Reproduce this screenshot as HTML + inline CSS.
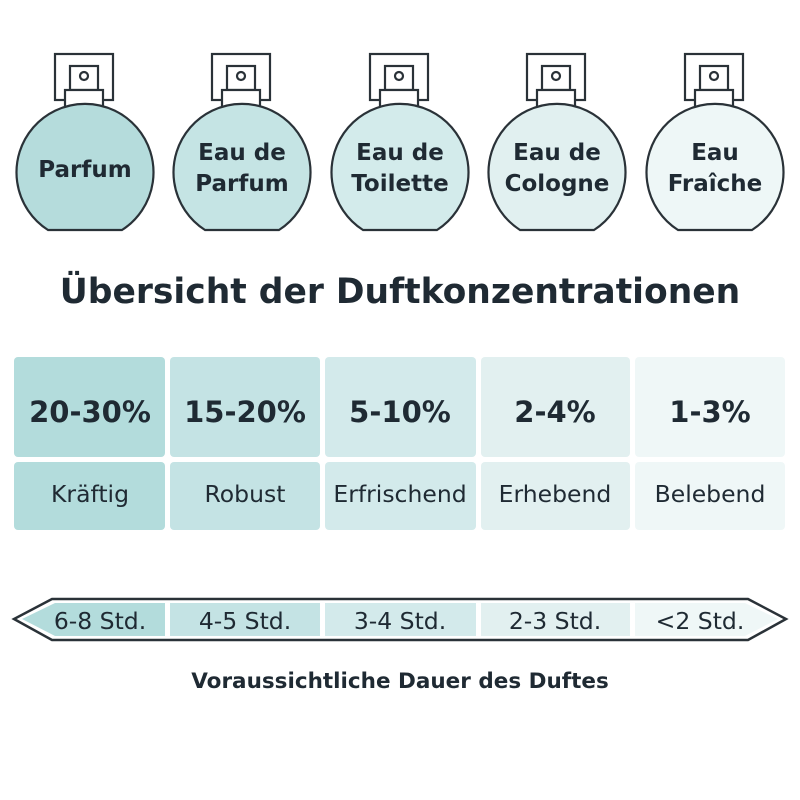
<!DOCTYPE html>
<html><head><meta charset="utf-8"><style>
body{margin:0;background:#fff}
svg{display:block}
text{font-family:"DejaVu Sans","Liberation Sans",sans-serif;fill:#1f2a33}
.b{font-weight:bold}
</style></head><body>
<svg width="800" height="800" viewBox="0 0 800 800" xmlns="http://www.w3.org/2000/svg">
<defs>
<g id="bottle" fill="none" stroke="#2a3238" stroke-width="2.2">
<rect x="-30" y="54" width="58" height="46" fill="#fff"/>
<rect x="-15" y="66" width="28" height="24" fill="#fff"/>
<circle cx="-1" cy="76" r="4"/>
<rect x="-20" y="90" width="38" height="18" fill="#fff"/>
</g>
</defs>
<g transform="translate(85,0)"><use href="#bottle"/><path d="M-37,230 A68.5,68.5 0 1 1 37,230 Z" fill="#b5dcdc" stroke="#2a3238" stroke-width="2.2"/></g>
<g transform="translate(242,0)"><use href="#bottle"/><path d="M-37,230 A68.5,68.5 0 1 1 37,230 Z" fill="#c5e4e4" stroke="#2a3238" stroke-width="2.2"/></g>
<g transform="translate(400,0)"><use href="#bottle"/><path d="M-37,230 A68.5,68.5 0 1 1 37,230 Z" fill="#d3ebeb" stroke="#2a3238" stroke-width="2.2"/></g>
<g transform="translate(557,0)"><use href="#bottle"/><path d="M-37,230 A68.5,68.5 0 1 1 37,230 Z" fill="#e1f0f0" stroke="#2a3238" stroke-width="2.2"/></g>
<g transform="translate(715,0)"><use href="#bottle"/><path d="M-37,230 A68.5,68.5 0 1 1 37,230 Z" fill="#eef7f7" stroke="#2a3238" stroke-width="2.2"/></g>
<g class="b" font-size="23" text-anchor="middle">
<text x="85" y="177" class="b">Parfum</text>
<text x="242" y="160" class="b">Eau de</text><text x="242" y="191" class="b">Parfum</text>
<text x="400" y="160" class="b">Eau de</text><text x="400" y="191" class="b">Toilette</text>
<text x="557" y="160" class="b">Eau de</text><text x="557" y="191" class="b">Cologne</text>
<text x="715" y="160" class="b">Eau</text><text x="715" y="191" class="b">Fraîche</text>
</g>
<text x="400" y="303" text-anchor="middle" font-size="34.5" class="b">Übersicht der Duftkonzentrationen</text>
<g>
<rect x="14" y="357" width="151" height="100" rx="4" fill="#b3dcdc"/><rect x="14" y="462" width="151" height="68" rx="4" fill="#b3dcdc"/>
<rect x="170" y="357" width="150" height="100" rx="4" fill="#c4e3e4"/><rect x="170" y="462" width="150" height="68" rx="4" fill="#c4e3e4"/>
<rect x="325" y="357" width="151" height="100" rx="4" fill="#d3eaeb"/><rect x="325" y="462" width="151" height="68" rx="4" fill="#d3eaeb"/>
<rect x="481" y="357" width="149" height="100" rx="4" fill="#e2f0f0"/><rect x="481" y="462" width="149" height="68" rx="4" fill="#e2f0f0"/>
<rect x="635" y="357" width="150" height="100" rx="4" fill="#eff7f7"/><rect x="635" y="462" width="150" height="68" rx="4" fill="#eff7f7"/>
</g>
<g font-size="29" text-anchor="middle">
<text x="90" y="422" class="b">20-30%</text><text x="245" y="422" class="b">15-20%</text><text x="400" y="422" class="b">5-10%</text><text x="555" y="422" class="b">2-4%</text><text x="710" y="422" class="b">1-3%</text>
</g>
<g font-size="23.5" text-anchor="middle">
<text x="90" y="502">Kräftig</text><text x="245" y="502">Robust</text><text x="400" y="502">Erfrischend</text><text x="555" y="502">Erhebend</text><text x="710" y="502">Belebend</text>
</g>
<path d="M52,599 L748,599 L786,619 L748,640 L52,640 L14,619 Z" fill="#fff" stroke="#2a3238" stroke-width="2.5"/>
<path d="M55,603 L165,603 L165,636 L55,636 L22,619 Z" fill="#b3dcdc"/>
<rect x="170" y="603" width="150" height="33" fill="#c4e3e4"/>
<rect x="325" y="603" width="151" height="33" fill="#d3eaeb"/>
<rect x="481" y="603" width="149" height="33" fill="#e2f0f0"/>
<path d="M635,603 L745,603 L778,619 L745,636 L635,636 Z" fill="#eff7f7"/>
<g font-size="23.5" text-anchor="middle">
<text x="100" y="629">6-8 Std.</text><text x="245" y="629">4-5 Std.</text><text x="400" y="629">3-4 Std.</text><text x="555" y="629">2-3 Std.</text><text x="700" y="629">&lt;2 Std.</text>
</g>
<text x="400" y="688" text-anchor="middle" font-size="21.5" class="b">Voraussichtliche Dauer des Duftes</text>
</svg>
</body></html>
